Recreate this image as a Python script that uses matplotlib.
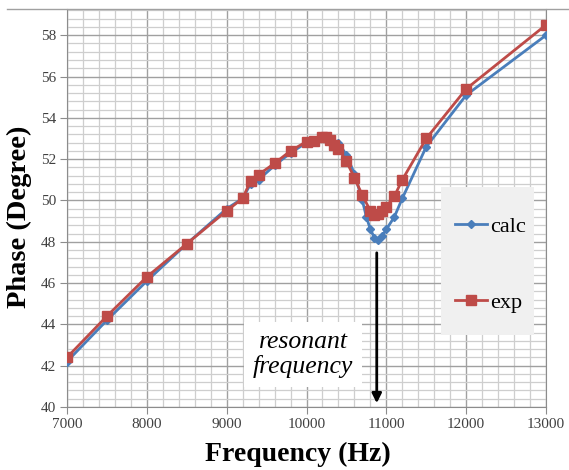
import matplotlib
matplotlib.use("Agg")
import matplotlib.pyplot as plt
from matplotlib.ticker import MultipleLocator
from matplotlib.lines import Line2D
from matplotlib.patches import Rectangle

plt.rcParams['font.family'] = ['Liberation Serif', 'DejaVu Serif']

# data
freq_calc = [7000, 7500, 8000, 8500, 9000, 9200, 9300, 9400, 9600, 9800, 10000, 10100,
             10200, 10300, 10400, 10500, 10600, 10700, 10750, 10800, 10850, 10900, 10950,
             11000, 11100, 11200, 11500, 12000, 13000]
phase_calc = [42.2, 44.2, 46.1, 47.9, 49.6, 50.1, 50.8, 51.0, 51.7, 52.3, 52.8, 52.9,
              53.0, 53.0, 52.8, 52.2, 51.3, 50.0, 49.2, 48.6, 48.2, 48.1, 48.3,
              48.6, 49.2, 50.1, 52.6, 55.1, 58.0]

freq_exp = [7000, 7500, 8000, 8500, 9000, 9200, 9300, 9400, 9600, 9800, 10000, 10100,
            10200, 10250, 10300, 10350, 10400, 10500, 10600, 10700, 10800, 10850, 10900,
            10950, 11000, 11100, 11200, 11500, 12000, 13000]
phase_exp = [42.4, 44.4, 46.3, 47.9, 49.5, 50.1, 50.95, 51.25, 51.8, 52.4, 52.85, 52.9,
             53.05, 53.05, 52.95, 52.7, 52.5, 51.9, 51.1, 50.25, 49.5, 49.3, 49.35,
             49.5, 49.7, 50.2, 51.0, 53.0, 55.4, 58.5]

fig = plt.figure(figsize=(5.69, 4.70), dpi=100)
ax = fig.add_axes([67/569, 63/470, 479/569, 398/470])

ax.plot(freq_calc, phase_calc, color='#4a7ebb', lw=2, marker='D', ms=4.5, label='calc', zorder=3)
ax.plot(freq_exp, phase_exp, color='#be4b48', lw=2, marker='s', ms=6.5, label='exp', zorder=4)

ax.set_xlim(7000, 13000)
ax.set_ylim(40, 59.27)
ax.xaxis.set_major_locator(MultipleLocator(1000))
ax.xaxis.set_minor_locator(MultipleLocator(200))
ax.yaxis.set_major_locator(MultipleLocator(2))
ax.yaxis.set_minor_locator(MultipleLocator(0.4))
ax.grid(which='major', color='#a0a0a0', lw=1.0)
ax.grid(which='minor', color='#cecece', lw=0.9)
ax.set_axisbelow(True)

for s in ['left', 'right', 'bottom']:
    ax.spines[s].set_color('#8c8c8c')
ax.spines['top'].set_visible(False)
ax.tick_params(which='major', direction='out', length=5, color='#8c8c8c',
               labelsize=11, labelcolor='#404040', pad=3)
ax.tick_params(which='minor', length=0)

ax.set_xlabel('Frequency (Hz)', fontsize=20, fontweight='bold')
ax.set_ylabel('Phase (Degree)', fontsize=20.5, fontweight='bold')
ax.xaxis.set_label_coords(0.482, -0.088)
ax.yaxis.set_label_coords(-0.073, 0.477)

# top border of the chart
fig.add_artist(Line2D([7/569, 1], [461/470, 461/470], color='#a0a0a0', lw=1))

# annotation
ax.text(9960, 42.55, 'resonant\nfrequency', fontsize=18.5, style='italic',
        ha='center', va='center', linespacing=1.1,
        bbox=dict(boxstyle='square,pad=0.35', fc='white', ec='none'), zorder=5)
ax.annotate('', xy=(10880, 40.05), xytext=(10880, 47.6),
            arrowprops=dict(arrowstyle='-|>', color='black', lw=2, mutation_scale=14),
            zorder=6)

# legend background panel
ax.add_patch(Rectangle((11687, 43.49), 1163, 7.16, transform=ax.transData,
                       fc='#f0f0f0', ec='none', zorder=5))
leg = ax.legend(loc='upper left', bbox_to_anchor=(0.81, 0.48), borderaxespad=0,
                fontsize=16, labelspacing=2.5, borderpad=0, handlelength=1.45,
                handletextpad=0.15, frameon=False)
leg.set_zorder(6)

fig.savefig('out.png', dpi=100)
